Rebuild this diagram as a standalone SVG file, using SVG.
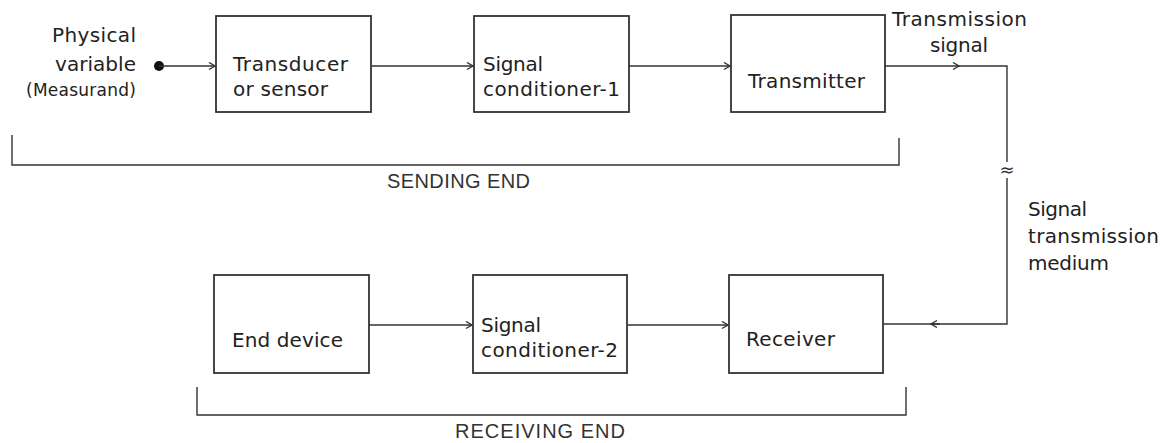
<svg xmlns="http://www.w3.org/2000/svg" width="1165" height="443" viewBox="0 0 1165 443">
<style>
.box{fill:#fff;stroke:#333;stroke-width:1.8}
.ln{fill:none;stroke:#333;stroke-width:1.4}
.t{font-family:"DejaVu Sans",Verdana,sans-serif;font-size:20px;fill:#222}
.s{font-family:"DejaVu Sans",Verdana,sans-serif;font-size:17px;fill:#222}
.cap{font-family:"Liberation Sans",Arial,sans-serif;font-size:20px;fill:#333}
</style>
<defs>
<marker id="ah" markerWidth="10" markerHeight="10" refX="7" refY="4" orient="auto" markerUnits="userSpaceOnUse">
<path d="M1,0.5 L7,4 L1,7.5" fill="none" stroke="#333" stroke-width="1.4"/>
</marker>
</defs>
<rect width="1165" height="443" fill="#fff"/>

<g id="input">
<text class="t" x="136" y="42" text-anchor="end" textLength="84">Physical</text>
<text class="t" x="136" y="71" text-anchor="end" textLength="81">variable</text>
<text class="s" x="136" y="96" text-anchor="end" textLength="110">(Measurand)</text>
<circle cx="159" cy="66" r="5" fill="#111"/>
</g>

<g id="transducer">
<rect class="box" x="216" y="16" width="155" height="96"/>
<text class="t" x="233" y="71" textLength="115">Transducer</text>
<text class="t" x="233" y="96" textLength="95">or sensor</text>
</g>

<g id="conditioner1">
<rect class="box" x="474" y="16" width="155" height="96"/>
<text class="t" x="483" y="71" textLength="60">Signal</text>
<text class="t" x="483" y="96" textLength="137">conditioner-1</text>
</g>

<g id="transmitter">
<rect class="box" x="731" y="15" width="154" height="97"/>
<text class="t" x="748" y="88" textLength="117">Transmitter</text>
</g>

<g id="enddevice">
<rect class="box" x="214" y="275" width="155" height="98"/>
<text class="t" x="232" y="347" textLength="111">End device</text>
</g>

<g id="conditioner2">
<rect class="box" x="473" y="275" width="154" height="98"/>
<text class="t" x="481" y="332" textLength="60">Signal</text>
<text class="t" x="481" y="357" textLength="137">conditioner-2</text>
</g>

<g id="receiver">
<rect class="box" x="729" y="275" width="154" height="98"/>
<text class="t" x="746" y="346" textLength="89">Receiver</text>
</g>

<g id="labels">
<text class="t" x="892" y="26" textLength="135">Transmission</text>
<text class="t" x="930" y="52" textLength="58">signal</text>
<text class="t" x="1028" y="216" textLength="59">Signal</text>
<text class="t" x="1028" y="243" textLength="131">transmission</text>
<text class="t" x="1028" y="270" textLength="81">medium</text>
<text x="1007" y="176" text-anchor="middle" font-family="DejaVu Sans,sans-serif" font-size="18" fill="#333">≈</text>
</g>

<g id="brackets">
<path class="ln" d="M12,135 V165 H899 V138"/>
<text class="cap" x="387" y="188" textLength="143">SENDING END</text>
<path class="ln" d="M197,387 V415 H906 V387"/>
<text class="cap" x="455" y="438" textLength="170">RECEIVING END</text>
</g>

<g id="connectors">
<path class="ln" d="M159,66 H215" marker-end="url(#ah)"/>
<path class="ln" d="M371,66 H473" marker-end="url(#ah)"/>
<path class="ln" d="M629,66 H730" marker-end="url(#ah)"/>
<path class="ln" d="M885,66 H959" marker-end="url(#ah)"/>
<path class="ln" d="M957,66 H1007 V162"/>
<path class="ln" d="M1007,178 V324 H931"/>
<path class="ln" d="M933,324 H883"/>
<path class="ln" d="M940,324 H931" marker-end="url(#ah)"/>
<path class="ln" d="M369,325 H472" marker-end="url(#ah)"/>
<path class="ln" d="M627,325 H728" marker-end="url(#ah)"/>
</g>
</svg>
